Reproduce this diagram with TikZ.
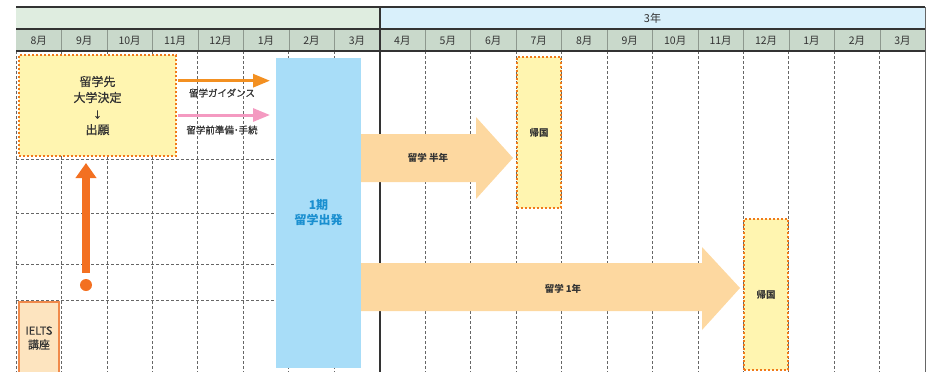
\documentclass[tikz,border=0pt]{standalone}
\usepackage{fontspec}
\setmainfont{Noto Sans CJK JP}
\newfontfamily\medfont{Noto Sans CJK JP}[FakeBold=0.7]
\usetikzlibrary{arrows.meta}
\definecolor{hdgreen}{HTML}{DFEDE0}
\definecolor{hdblue}{HTML}{D9F0FB}
\definecolor{hdmonth}{HTML}{C9D9CB}
\definecolor{gridc}{HTML}{666666}
\definecolor{dark}{HTML}{333333}
\definecolor{ylw}{HTML}{FFF5B0}
\definecolor{dotor}{HTML}{F07A1A}
\definecolor{skyb}{HTML}{A8DDF8}
\definecolor{bluet}{HTML}{1A8FD0}
\definecolor{peach}{HTML}{FDD8A0}
\definecolor{ieltsf}{HTML}{FDE4BF}
\definecolor{ieltsb}{HTML}{F08A4B}
\definecolor{arrowor}{HTML}{F39021}
\definecolor{arrowpk}{HTML}{F49AC1}
\definecolor{upor}{HTML}{F37021}
\tikzset{
  monthlbl/.style={font=\fontsize{10.5}{12}\selectfont, text=dark, inner sep=0pt},
  griddash/.style={gridc, line width=0.7pt, dash pattern=on 3pt off 2pt},
  dotbox/.style={fill=ylw, inner sep=0pt,
    postaction={draw=dotor, line width=2.6pt, dash pattern=on 2.2pt off 1.8pt}},
  smalltxt/.style={font=\medfont\fontsize{9.5}{11}\selectfont, text=dark, inner sep=0pt},
  fatlbl/.style={font=\bfseries\fontsize{9.5}{11}\selectfont, text=dark, inner sep=0pt},
}
\begin{document}
\begin{tikzpicture}[x=1pt,y=-1pt]
\useasboundingbox (0,0) rectangle (935,372);
% header
\fill[hdgreen] (16,7) rectangle (380,29);
\fill[hdblue] (380,7) rectangle (925,29);
\fill[hdmonth] (16,29) rectangle (925,51);
\foreach \k in {1,...,19}{
  \draw[hdmonth!70!black, line width=0.4pt] ({16+\k*45.46},29) -- ({16+\k*45.46},51);
}
\node[monthlbl, font=\fontsize{11}{12}\selectfont] (yr3) at (652.5,18) {3年};
\foreach \m [count=\i from 0] in {8,9,10,11,12,1,2,3,4,5,6,7,8,9,10,11,12,1,2,3}{
  \node[monthlbl] (m\i) at ({16+(\i+0.5)*45.46},40.5) {\m 月};
}
% body grid
\foreach \k in {0,...,7,9,10,11,12,13,14,15,16,17,18,19}{
  \draw[griddash] ({16+\k*45.46},51) -- ({16+\k*45.46},372);
}
\foreach \yy in {159,213,264,300}{
  \draw[griddash] (16,\yy) -- (276,\yy);
}
\draw[dark, line width=1.2pt] (16,7) -- (925,7);
\draw[dark, line width=1.2pt] (16,29) -- (925,29);
\draw[dark, line width=1.2pt] (16,51) -- (925,51);
\draw[dark, line width=1.2pt] (380,7) -- (380,372);
\draw[gridc, line width=1pt] (925,7) -- (925,372);
% blue departure box
\node[fill=skyb, minimum width=85pt, minimum height=310pt, inner sep=0pt,
      font=\bfseries\fontsize{12}{15}\selectfont, text=bluet, align=center] (dep) at (318.5,213) {1期\\留学出発};
% yellow decision box
\node[dotbox, minimum width=157pt, minimum height=101pt, align=center,
      font=\medfont\fontsize{12}{16}\selectfont, text=dark] (dec) at (97.5,105.5) {留学先\\大学決定\\{\fontsize{9}{16}\selectfont ↓}\\出願};
% small arrows
\coordinate (g1) at (270,80.7);
\coordinate (g2) at (270,115);
\draw[arrowor, line width=3pt, -{Triangle[length=17pt,width=13pt]}] ([xshift=1.5pt]dec.east |- g1) -- (g1);
\draw[arrowpk, line width=3pt, -{Triangle[length=17pt,width=13pt]}] ([xshift=1.5pt]dec.east |- g2) -- (g2);
\node[smalltxt] (lg1) at (222,93) {留学ガイダンス};
\node[smalltxt] (lg2) at (222,130) {留学前準備･手続};
% up arrow with dot
\node[circle, fill=upor, minimum size=12pt, inner sep=0pt] (dot) at (86,285) {};
\coordinate (uptip) at (86,163);
\draw[upor, line width=8pt, -{Triangle[length=15pt,width=20pt]}] ([yshift=6pt]dot.north) -- (uptip);
% IELTS box
\node[draw=ieltsb, fill=ieltsf, line width=1.2pt, minimum width=40pt, minimum height=72pt, inner sep=0pt,
      align=center, font=\medfont\fontsize{11}{14}\selectfont, text=dark] (ielts) at (39,338) {IELTS\\講座};
% fat arrows
\fill[peach] (361,134) -- (476,134) -- (476,117) -- (513,158) -- (476,199) -- (476,182) -- (361,182) -- cycle;
\node[fatlbl] (half) at (428,158) {留学 半年};
\fill[peach] (361,263) -- (702,263) -- (702,247) -- (740,288) -- (702,330) -- (702,311) -- (361,311) -- cycle;
\node[fatlbl] (full) at (563,289) {留学 1年};
% return boxes
\node[dotbox, minimum width=44pt, minimum height=151pt, font=\bfseries\fontsize{9.5}{11}\selectfont, text=dark] (ret1) at (539,132.5) {帰国};
\node[dotbox, minimum width=44pt, minimum height=151pt, font=\bfseries\fontsize{9.5}{11}\selectfont, text=dark] (ret2) at (766,294.5) {帰国};
\end{tikzpicture}
\end{document}
